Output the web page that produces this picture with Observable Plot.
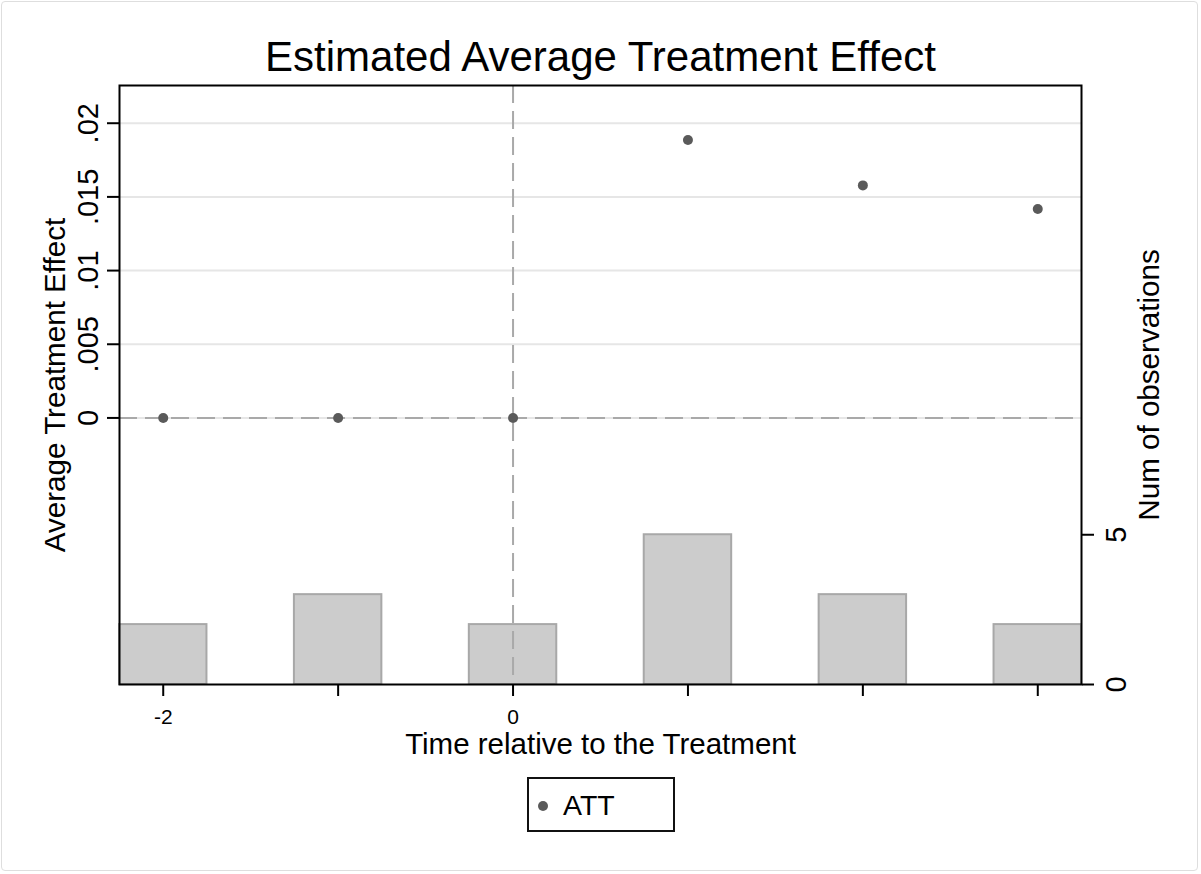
<!DOCTYPE html>
<html>
<head>
<meta charset="utf-8">
<script src="https://cdn.jsdelivr.net/npm/d3@7"></script>
<script src="https://cdn.jsdelivr.net/npm/@observablehq/plot@0.6"></script>
<style>
  html, body { margin: 0; padding: 0; background: #fff; }
  #page { position: relative; width: 1201px; height: 874px; overflow: hidden; }
  #border { position: absolute; left: 1px; top: 1px; width: 1197px; height: 870px;
            border: 1px solid #dedede; border-radius: 4px; box-sizing: border-box; pointer-events: none; }
  #chart { position: absolute; left: 0; top: 0; }
  #legend { position: absolute; left: 527px; top: 777px; width: 148px; height: 55px;
            box-sizing: border-box; border: 2px solid #111; background: #fff;
            font-family: "Liberation Sans", Arial, sans-serif; font-size: 28.5px; color: #000; }
  #legend .dot { position: absolute; left: 9px; top: 22px; width: 10px; height: 10px;
                 border-radius: 50%; background: #5a5a5a; }
  #legend .lbl { position: absolute; left: 34px; top: 10px; line-height: 32px; }
</style>
</head>
<body>
<div id="page">
  <div id="chart"></div>
  <div id="legend"><span class="dot"></span><span class="lbl">ATT</span></div>
  <div id="border"></div>
</div>
<script>
// Event-study estimates: periods relative to treatment, ATT, and number of observations
const periods = [-2, -1, 0, 1, 2, 3];
const att = [0, 0, 0, 0.01886, 0.01578, 0.01418];
const obsCount = [2, 3, 2, 5, 3, 2];

// Axis ticks and labels
const attTicks = [0, 0.005, 0.01, 0.015, 0.02];
const attTickLabels = ["0", ".005", ".01", ".015", ".02"];
const countTicks = [0, 5];
const periodTicks = [-2, -1, 0, 1, 2, 3];
const periodTickLabels = ["-2", "", "0", "", "", ""];

// Axis ranges
const attDomain = [-0.01809, 0.02256];
const countMax = 20;
const xDomain = [-2.25, 3.25];
const barHalfWidth = 0.25;

const font = '"Liberation Sans", Arial, sans-serif';

// Counts share the plot with ATT; map them onto the ATT scale (0 → bottom, countMax → top)
const countToY = c => attDomain[0] + c * (attDomain[1] - attDomain[0]) / countMax;

const bars = periods.map((p, i) => ({p, n: obsCount[i]}));
const points = periods.map((p, i) => ({p, v: att[i]}));
const countTickY = countTicks.map(countToY);
const countTickMap = new Map(countTicks.map(c => [countToY(c), String(c)]));
const attTickMap = new Map(attTicks.map((t, i) => [t, attTickLabels[i]]));
const periodTickMap = new Map(periodTicks.map((t, i) => [t, periodTickLabels[i]]));
const blank = () => "";

const chart = Plot.plot({
  width: 1201,
  height: 874,
  marginLeft: 119,
  marginRight: 120,
  marginTop: 85,
  marginBottom: 190,
  style: {fontFamily: font, background: "transparent", color: "#000"},
  x: {domain: xDomain, axis: null},
  y: {domain: attDomain, axis: null},
  marks: [
    // horizontal gridlines
    Plot.ruleY(attTicks, {stroke: "#e6e6e6", strokeWidth: 2}),
    // observation counts
    Plot.rectY(bars, {
      x1: d => d.p - barHalfWidth,
      x2: d => d.p + barHalfWidth,
      y1: () => countToY(0),
      y2: d => countToY(d.n),
      fill: "#cccccc",
      stroke: "#a8a8a8",
      strokeWidth: 2
    }),
    // reference lines at zero
    Plot.ruleY([0], {stroke: "#a9a9a9", strokeWidth: 2, strokeDasharray: "18,8"}),
    Plot.ruleX([0], {stroke: "#a9a9a9", strokeWidth: 2, strokeDasharray: "18,8"}),
    // ATT estimates
    Plot.dot(points, {x: "p", y: "v", r: 5, fill: "#5a5a5a", stroke: null}),
    Plot.frame({stroke: "#000", strokeWidth: 2}),
    // left axis (ATT): tick marks, then rotated labels
    Plot.axisY(attTicks, {anchor: "left", label: null, tickSize: 12, strokeWidth: 2, stroke: "#000", tickFormat: blank}),
    Plot.axisY(attTicks, {
      anchor: "left", label: null, tickSize: 0, tickPadding: 22,
      tickFormat: d => attTickMap.get(d), rotate: -90, textAnchor: "middle", lineAnchor: "bottom",
      fontSize: 29, fill: "#000"
    }),
    // right axis (counts)
    Plot.axisY(countTickY, {anchor: "right", label: null, tickSize: 12, strokeWidth: 2, stroke: "#000", tickFormat: blank}),
    Plot.axisY(countTickY, {
      anchor: "right", label: null, tickSize: 0, tickPadding: 24,
      tickFormat: d => countTickMap.get(d), rotate: -90, textAnchor: "middle", lineAnchor: "top",
      fontSize: 29, fill: "#000"
    }),
    // bottom axis
    Plot.axisX(periodTicks, {
      anchor: "bottom", label: null, tickSize: 12, tickPadding: 13, strokeWidth: 2,
      tickFormat: d => periodTickMap.get(d), fontSize: 21, fill: "#000"
    }),
    // titles
    Plot.text(["Estimated Average Treatment Effect"], {
      frameAnchor: "top", dy: -15, lineAnchor: "bottom", textAnchor: "middle", fontSize: 42, fill: "#000"
    }),
    Plot.text(["Time relative to the Treatment"], {
      frameAnchor: "bottom", dy: 69, lineAnchor: "bottom", textAnchor: "middle", fontSize: 29.5, fill: "#000"
    }),
    Plot.text(["Average Treatment Effect"], {
      frameAnchor: "left", dx: -55, rotate: -90, lineAnchor: "bottom", textAnchor: "middle", fontSize: 29.6, fill: "#000"
    }),
    Plot.text(["Num of observations"], {
      frameAnchor: "right", dx: 77, rotate: -90, lineAnchor: "bottom", textAnchor: "middle", fontSize: 29.6, fill: "#000"
    })
  ]
});

document.getElementById("chart").appendChild(chart);
</script>
</body>
</html>
